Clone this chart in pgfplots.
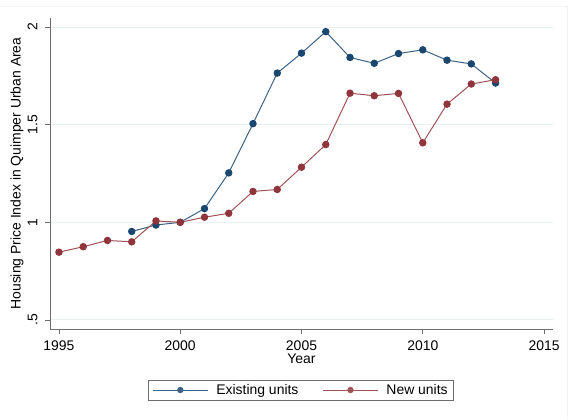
\documentclass[border=0pt]{standalone}
\usepackage{pgfplots}
\pgfplotsset{compat=1.18}
\usepackage{fontspec}
\setmainfont{Liberation Sans}
\definecolor{snavy}{RGB}{26,71,111}
\definecolor{smaroon}{RGB}{144,53,59}
\definecolor{sgrid}{RGB}{232,240,241}
\definecolor{saxis}{RGB}{110,110,110}
\begin{document}
\begin{tikzpicture}[x=1bp,y=1bp]
\useasboundingbox (-50,-90) rectangle (519,329);
\fill[white] (-50,-90) rectangle (519,329);
\draw[color={rgb,255:red,240;green,243;blue,244}, line width=1bp] (-50,323) -- (517,323) -- (517,-90);
\begin{axis}[
  at={(0,0)}, anchor=south west,
  scale only axis, width=503bp, height=311bp,
  xmin=1994.63, xmax=2015.37, ymin=0.4536, ymax=2.046,
  axis x line*=bottom, axis y line*=left,
  axis line style={saxis, line width=0.8bp, -},
  tick align=outside, tick style={saxis, line width=0.8bp},
  major tick length=5bp,
  xtick={1995,2000,2005,2010,2015},
  xticklabels={1995,2000,2005,2010,2015},
  ytick={0.5,1,1.5,2},
  yticklabels={.5,1,1.5,2},
  ymajorgrids, grid style={sgrid, line width=0.9bp},
  font=\fontsize{14}{16}\selectfont,
  xticklabel style={anchor=north, yshift=-3bp},
  yticklabel style={rotate=90, anchor=south, yshift=4bp},
  xlabel={Year}, ylabel={Housing Price Index in Quimper Urban Area},
  xlabel style={at={(axis description cs:0.5,0)}, anchor=north, yshift=-21bp},
  ylabel style={at={(axis description cs:0,0.5)}, anchor=south, yshift=23bp},
  legend columns=2,
  legend style={at={(251bp,-61bp)}, anchor=center, draw=saxis, line width=0.6bp,
    font=\fontsize{14}{16}\selectfont, inner xsep=4bp, inner ysep=2bp,
    /tikz/every odd column/.append style={column sep=6bp},
    /tikz/every even column/.append style={column sep=22bp}},
  legend image code/.code={\draw[#1, mark=none] (0bp,0bp) -- (55bp,0bp); \fill[#1, draw=none] (27.5bp,0bp) circle (3.2bp);},
]
\addplot[snavy!85, line width=1bp, mark=*, mark size=3.2bp, mark options={draw=snavy, fill=snavy}] coordinates {
(1998,0.953) (1999,0.986) (2000,1.000) (2001,1.070) (2002,1.253) (2003,1.505)
(2004,1.764) (2005,1.866) (2006,1.976) (2007,1.844) (2008,1.814) (2009,1.864)
(2010,1.883) (2011,1.830) (2012,1.811) (2013,1.713)};
\addlegendentry{Existing units}
\addplot[smaroon!85, line width=1bp, mark=*, mark size=3.2bp, mark options={draw=smaroon, fill=smaroon}] coordinates {
(1995,0.847) (1996,0.875) (1997,0.907) (1998,0.900) (1999,1.007) (2000,1.000)
(2001,1.026) (2002,1.046) (2003,1.158) (2004,1.168) (2005,1.282) (2006,1.398)
(2007,1.661) (2008,1.648) (2009,1.660) (2010,1.407) (2011,1.605) (2012,1.708) (2013,1.730)};
\addlegendentry{New units}
\end{axis}
\end{tikzpicture}
\end{document}
